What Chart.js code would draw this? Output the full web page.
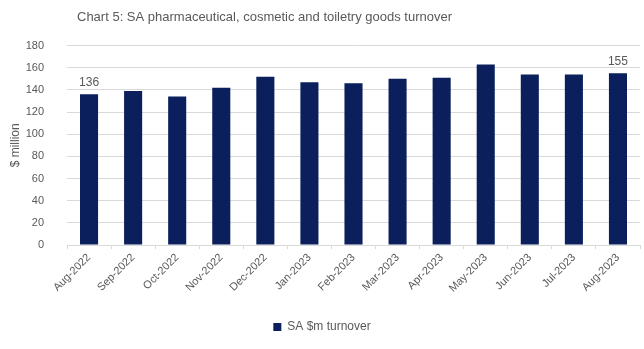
<!DOCTYPE html>
<html><head><meta charset="utf-8">
<script src="https://cdn.jsdelivr.net/npm/chart.js@4"></script>
<style>html,body{margin:0;padding:0;background:#fff}#w{width:644px;height:349px}</style>
</head><body><div id="w"><canvas id="c"></canvas></div>
<script>
const categories = ["Aug-2022","Sep-2022","Oct-2022","Nov-2022","Dec-2022","Jan-2023","Feb-2023","Mar-2023","Apr-2023","May-2023","Jun-2023","Jul-2023","Aug-2023"];
const turnover = [136, 139, 134, 142, 152, 147, 146, 150, 151, 163, 154, 154, 155];
const labelledIdx = [0, 12];
const yTicks = [0,20,40,60,80,100,120,140,160,180];

const endLabels = {
  id: 'endLabels',
  afterLayout(chart) {
    if (chart.titleBlock) { chart.titleBlock.left = 77; }
  },
  afterDatasetsDraw(chart) {
    const ctx = chart.ctx;
    const meta = chart.getDatasetMeta(0);
    ctx.save();
    ctx.font = '12px "Liberation Sans", Arial, sans-serif';
    ctx.fillStyle = '#595959';
    ctx.textAlign = 'center';
    ctx.textBaseline = 'bottom';
    labelledIdx.forEach(i => {
      const el = meta.data[i];
      ctx.fillText(String(turnover[i]), el.x, el.y - 6);
    });
    ctx.restore();
  }
};

const FONT = '"Liberation Sans", Arial, sans-serif';
new Chart(document.getElementById('c'), {
  type: 'bar',
  data: { labels: categories, datasets: [{ label: 'SA $m turnover', data: turnover, backgroundColor: '#0a1f5c', barPercentage: 0.41, categoryPercentage: 1.0 }] },
  options: {
    responsive: true, maintainAspectRatio: false, animation: false,
    layout: { padding: { left: 4, right: 4, top: 4, bottom: 6 } },
    plugins: {
      title: { display: true, align: 'start', text: 'Chart 5: SA pharmaceutical, cosmetic and toiletry goods turnover', color: '#595959', font: { family: FONT, size: 13, weight: 'normal' }, padding: { top: 6, bottom: 20 } },
      legend: { position: 'bottom', labels: { color: '#595959', boxWidth: 8, boxHeight: 8, font: { family: FONT, size: 12 }, padding: 17 } },
      tooltip: { enabled: false }
    },
    scales: {
      x: {
        afterFit: (axis) => { axis.paddingLeft = 0; axis.paddingRight = 0; axis.height += 7; },
        grid: { display: true, drawOnChartArea: false, drawTicks: true, tickLength: 4, color: '#d9d9d9' },
        border: { color: '#d9d9d9' },
        ticks: { color: '#595959', padding: 2, maxRotation: 45, minRotation: 45, font: { family: FONT, size: 11 } }
      },
      y: {
        min: 0, max: 180,
        afterFit: (axis) => { axis.width = 63; },
        afterBuildTicks: (axis) => { axis.ticks = yTicks.map(v => ({ value: v })); },
        grid: { color: '#d9d9d9', drawTicks: false },
        border: { display: false },
        ticks: { color: '#595959', padding: 23, font: { family: FONT, size: 11 } },
        title: { display: true, text: '$ million', color: '#595959', font: { family: FONT, size: 12 }, padding: { top: 4, bottom: 3 } }
      }
    }
  },
  plugins: [endLabels]
});
</script></body></html>
